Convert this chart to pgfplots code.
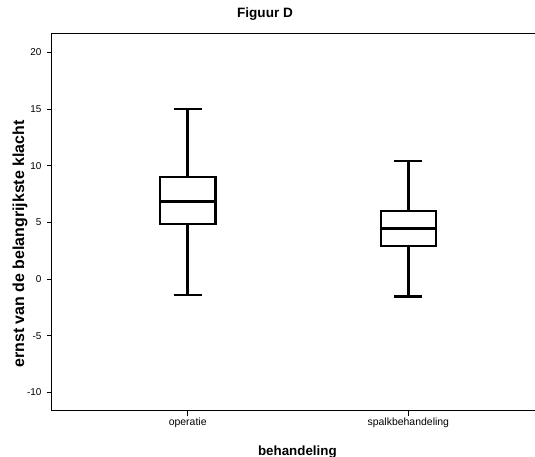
\documentclass[border=0pt]{standalone}
\usepackage{fontspec}
\setmainfont{Liberation Sans}
\usepackage{pgfplots}
\pgfplotsset{compat=1.18}
\usepgfplotslibrary{statistics}
\begin{document}
\begin{tikzpicture}
\begin{axis}[
  name=a,
  scale only axis,
  width=483bp, height=377.4bp,
  xmin=0.385, xmax=2.574,
  ymin=-11.6, ymax=21.7,
  axis x line*=box, axis y line*=left,
  axis line style={line width=1bp, black},
  xtick={1,2}, xticklabels={operatie,spalkbehandeling},
  ytick={-10,-5,0,5,10,15,20},
  xtick pos=bottom, ytick pos=left,
  tick align=outside,
  major tick length=5bp,
  tick style={line width=1bp, black},
  /pgf/number format/assume math mode=true,
  yticklabel style={font=\fontsize{10}{11}\selectfont, xshift=-2bp},
  xticklabel style={font=\fontsize{10.5}{12}\selectfont, yshift=1bp},
  ylabel={ernst van de belangrijkste klacht},
  ylabel style={font=\bfseries\fontsize{16}{17}\selectfont, at={(rel axis cs:-0.0663,0.4417)}, anchor=center},
  xlabel={behandeling},
  xlabel style={font=\bfseries\fontsize{13.4}{15}\selectfont, at={(rel axis cs:0.508,-0.1094)}, anchor=center},
  title={Figuur D},
  title style={font=\bfseries\fontsize{13.6}{15}\selectfont, at={(rel axis cs:0.441,1.0352)}, anchor=center},
  boxplot/draw direction=y,
  boxplot/box extend=0.25,
  boxplot/whisker extend=0.127,
  boxplot/every median/.style={line width=3bp},
]
\addplot+[black, line width=2.5bp, fill=white, mark=none,
  boxplot prepared={draw position=1, median=6.83, upper quartile=9.03, lower quartile=4.87, upper whisker=15, lower whisker=-1.38}]
  coordinates {};
\addplot+[black, line width=2.5bp, fill=white, mark=none,
  boxplot prepared={draw position=2, median=4.49, upper quartile=6.04, lower quartile=2.93, upper whisker=10.41, lower whisker=-1.53}]
  coordinates {};
\end{axis}
\pgfresetboundingbox
\path ([shift={(-52bp,-46.3bp)}]a.south west) rectangle ([shift={(0bp,33.3bp)}]a.north east);
\end{tikzpicture}
\end{document}
